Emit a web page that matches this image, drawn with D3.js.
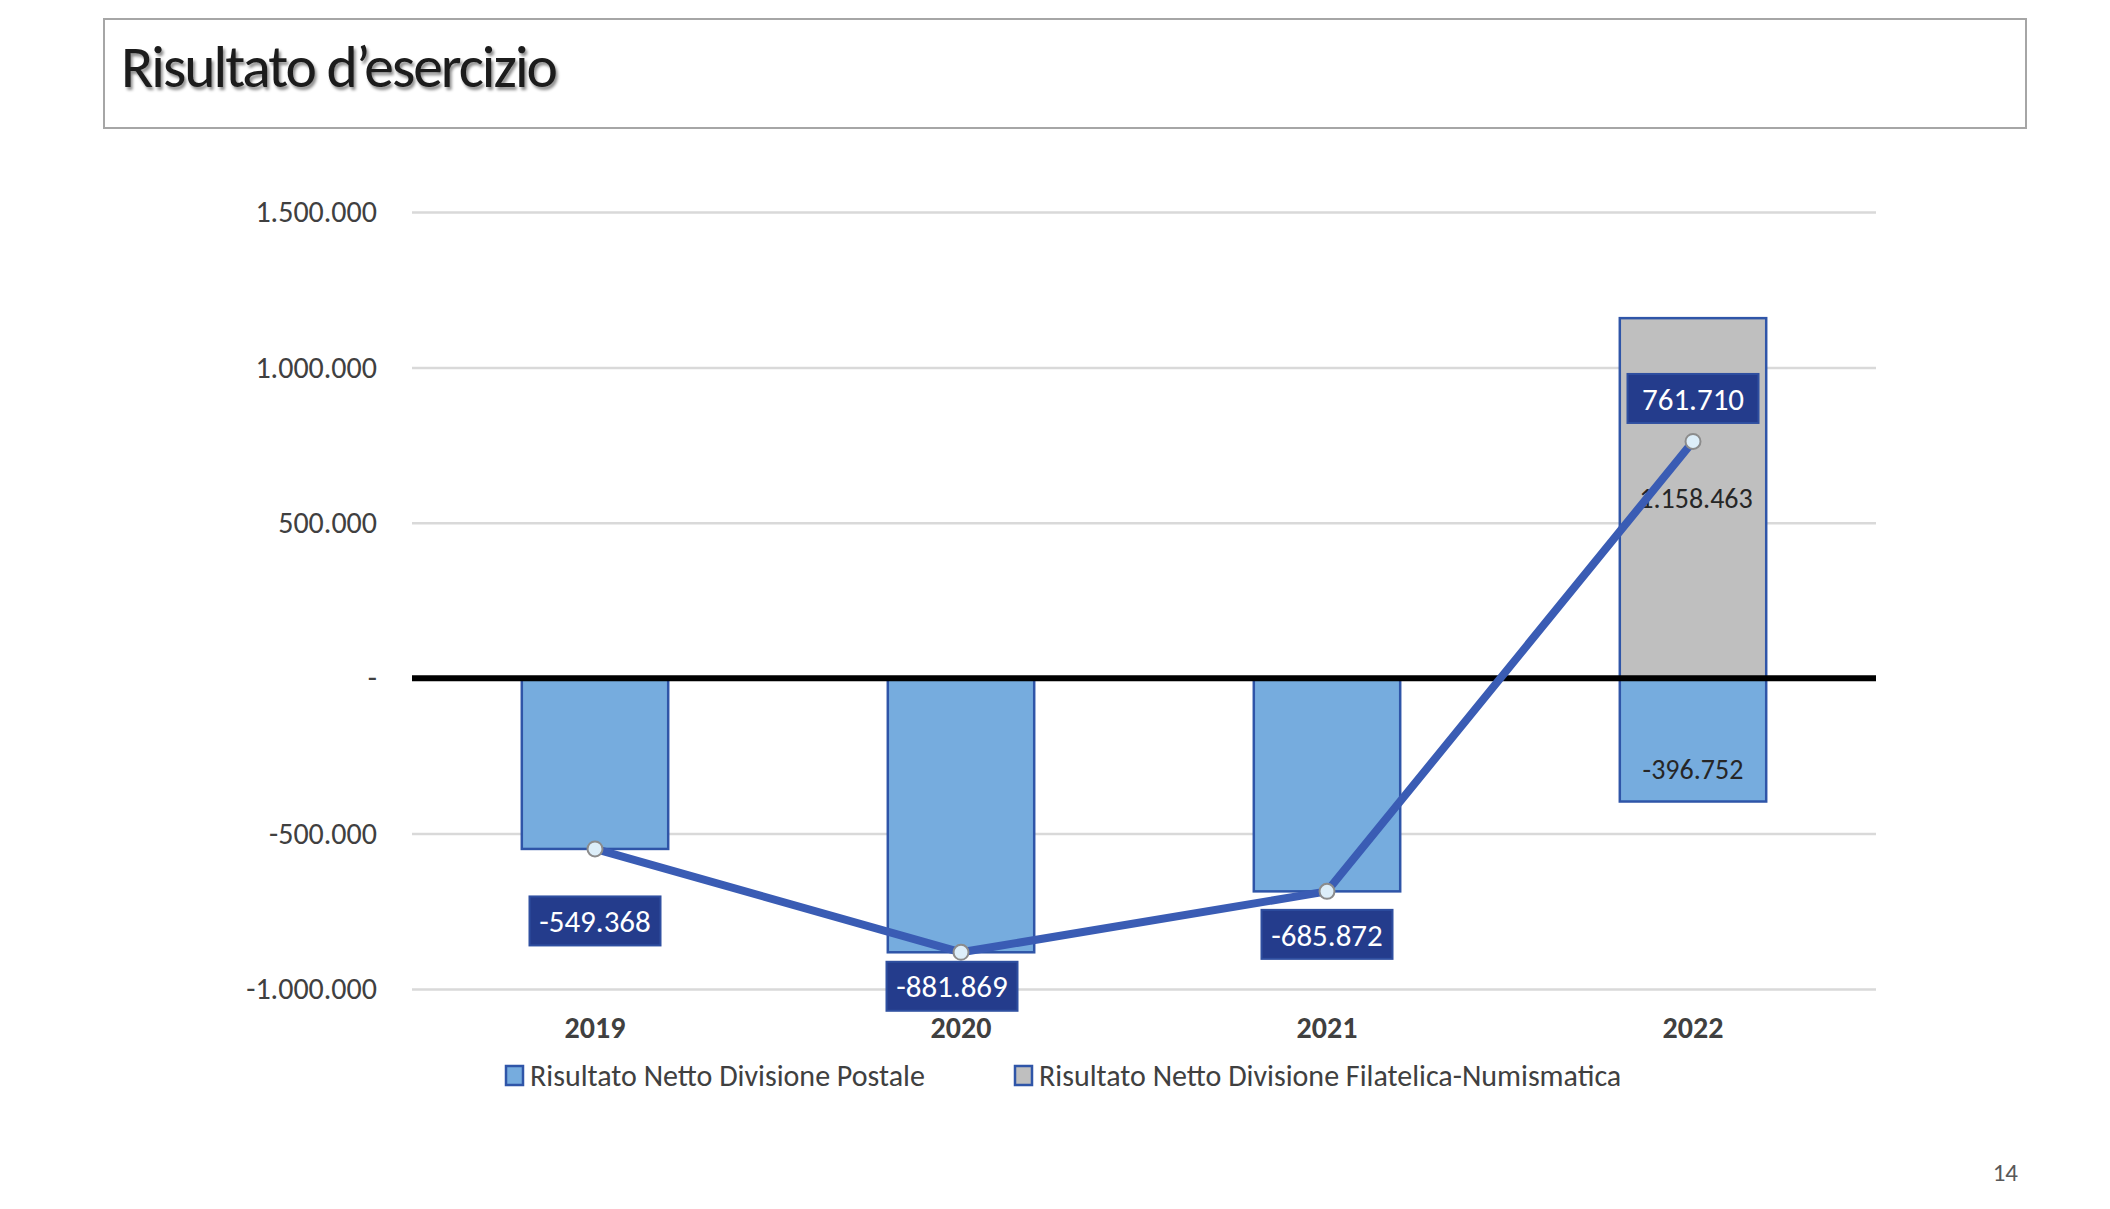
<!DOCTYPE html>
<html>
<head>
<meta charset="utf-8">
<script src="https://cdn.jsdelivr.net/npm/d3@7"></script>
<style>
  body { margin: 0; background: #fff; }
  text { font-family: Carlito, Calibri, Lato, "Open Sans", sans-serif; }
</style>
</head>
<body>
<div id="chart"></div>
<script>
const years = ["2019", "2020", "2021", "2022"];
const postale = [-549368, -881869, -685872, -396752];
const filatelica = [0, 0, 0, 1158463];
const totale = [-549368, -881869, -685872, 761710];
const yTicks = [-1000000, -500000, 0, 500000, 1000000, 1500000];
const seriesNames = ["Risultato Netto Divisione Postale", "Risultato Netto Divisione Filatelica-Numismatica"];

// where the dark value boxes sit relative to their point (px)
const totaleLabelDx = [0, -9, 0, 0];
const totaleLabelDy = [72, 34, 43, -43];

const width = 2110;
const height = 1209;
const margin = { top: 212, right: 234, bottom: 220, left: 412 };

const itLocale = d3.formatLocale({ decimal: ",", thousands: ".", grouping: [3], currency: ["€", ""], minus: "-" });
const fmt = itLocale.format(",d");
const tickFmt = d => d === 0 ? "-" : fmt(d);

const svg = d3.select("#chart").append("svg")
    .attr("width", width)
    .attr("height", height);

const defs = svg.append("defs");
defs.append("filter")
    .attr("id", "shadow")
    .append("feDropShadow")
    .attr("dx", 2).attr("dy", 3)
    .attr("stdDeviation", 1.5)
    .attr("flood-color", "#000")
    .attr("flood-opacity", 0.45);

// title box
svg.append("rect")
    .attr("x", 104).attr("y", 19)
    .attr("width", 1922).attr("height", 109)
    .attr("fill", "#fff")
    .attr("stroke", "#a6a6a6")
    .attr("stroke-width", 2);

svg.append("text")
    .attr("x", 121).attr("y", 87)
    .attr("textLength", 435)
    .attr("lengthAdjust", "spacingAndGlyphs")
    .style("font-size", "59px")
    .style("letter-spacing", "-2px")
    .attr("fill", "#1a1a1a")
    .attr("filter", "url(#shadow)")
    .text("Risultato d’esercizio");

const x = d3.scaleBand()
    .domain(years)
    .range([margin.left, width - margin.right])
    .paddingInner(0.6)
    .paddingOuter(0.3);

const y = d3.scaleLinear()
    .domain([-1000000, 1500000])
    .range([989, margin.top]);

// gridlines + y labels
const yAxis = svg.append("g")
    .attr("transform", `translate(${margin.left},0)`)
    .call(d3.axisLeft(y)
        .tickValues(yTicks)
        .tickFormat(tickFmt)
        .tickSize(-(width - margin.right - margin.left))
        .tickPadding(35));
yAxis.select(".domain").remove();
yAxis.selectAll("line").attr("stroke", "#d9d9d9").attr("stroke-width", 2.5);
yAxis.selectAll("text")
    .attr("fill", "#404040")
    .style("font-size", "30px");

// stacked bars
const bars = svg.append("g");
bars.selectAll(".bar-fil")
    .data(years.map((yr, i) => ({ yr, v: filatelica[i] })).filter(d => d.v !== 0))
    .enter().append("rect")
    .attr("class", "bar-fil")
    .attr("x", d => x(d.yr))
    .attr("width", x.bandwidth())
    .attr("y", d => y(d.v))
    .attr("height", d => y(0) - y(d.v))
    .attr("fill", "#bfbfbf")
    .attr("stroke", "#2f55a8")
    .attr("stroke-width", 2.5);

bars.selectAll(".bar-pos")
    .data(years.map((yr, i) => ({ yr, v: postale[i] })))
    .enter().append("rect")
    .attr("class", "bar-pos")
    .attr("x", d => x(d.yr))
    .attr("width", x.bandwidth())
    .attr("y", y(0))
    .attr("height", d => y(d.v) - y(0))
    .attr("fill", "#76acde")
    .attr("stroke", "#2f55a8")
    .attr("stroke-width", 2.5);

// zero line
svg.append("line")
    .attr("x1", margin.left).attr("x2", width - margin.right)
    .attr("y1", y(0)).attr("y2", y(0))
    .attr("stroke", "#000")
    .attr("stroke-width", 6);

// bar labels (2022 only)
const last = years.length - 1;
svg.append("text")
    .attr("x", x(years[last]) + x.bandwidth() / 2 + 3)
    .attr("y", y(filatelica[last] / 2))
    .attr("dy", "0.35em")
    .attr("text-anchor", "middle")
    .attr("fill", "#262626")
    .style("font-size", "28px")
    .text(fmt(filatelica[last]));

svg.append("text")
    .attr("x", x(years[last]) + x.bandwidth() / 2)
    .attr("y", y(postale[last]) - 32)
    .attr("dy", "0.35em")
    .attr("text-anchor", "middle")
    .attr("fill", "#262626")
    .style("font-size", "28px")
    .text(fmt(postale[last]));

// total line
const line = d3.line()
    .x((d, i) => x(years[i]) + x.bandwidth() / 2)
    .y(d => y(d));

svg.append("path")
    .datum(totale)
    .attr("d", line)
    .attr("fill", "none")
    .attr("stroke", "#3a5cb4")
    .attr("stroke-width", 8);

svg.selectAll(".pt")
    .data(totale)
    .enter().append("circle")
    .attr("class", "pt")
    .attr("cx", (d, i) => x(years[i]) + x.bandwidth() / 2)
    .attr("cy", d => y(d))
    .attr("r", 7.5)
    .attr("fill", "#ddeef9")
    .attr("stroke", "#8c8c8c")
    .attr("stroke-width", 2);

const boxW = 131, boxH = 49;
const lbl = svg.selectAll(".tot-lbl")
    .data(totale)
    .enter().append("g")
    .attr("class", "tot-lbl")
    .attr("transform", (d, i) => `translate(${x(years[i]) + x.bandwidth() / 2 + totaleLabelDx[i]},${y(d) + totaleLabelDy[i]})`);

lbl.append("rect")
    .attr("x", -boxW / 2).attr("y", -boxH / 2)
    .attr("width", boxW).attr("height", boxH)
    .attr("fill", "#243c8c")
    .attr("stroke", "#2f4fa0")
    .attr("stroke-width", 2);

lbl.append("text")
    .attr("text-anchor", "middle")
    .attr("dy", "0.36em")
    .attr("fill", "#fff")
    .style("font-size", "31px")
    .text(d => fmt(d));

// x axis labels
const xAxis = svg.append("g")
    .attr("transform", `translate(0,${989})`)
    .call(d3.axisBottom(x).tickSize(0).tickPadding(28));
xAxis.select(".domain").remove();
xAxis.selectAll("text")
    .attr("fill", "#404040")
    .style("font-size", "30px")
    .style("font-weight", "bold");

// legend
const legendX = [506, 1015];
const legendFill = ["#76acde", "#bfbfbf"];
const legend = svg.selectAll(".legend")
    .data(seriesNames)
    .enter().append("g")
    .attr("class", "legend")
    .attr("transform", (d, i) => `translate(${legendX[i]},1066)`);

legend.append("rect")
    .attr("width", 17).attr("height", 19)
    .attr("fill", (d, i) => legendFill[i])
    .attr("stroke", "#2f55a8")
    .attr("stroke-width", 2.5);

legend.append("text")
    .attr("x", 24)
    .attr("y", 20)
    .attr("fill", "#404040")
    .style("font-size", "30px")
    .text(d => d);

// page number
svg.append("text")
    .attr("x", 2018).attr("y", 1181)
    .attr("text-anchor", "end")
    .attr("fill", "#595959")
    .style("font-size", "25px")
    .text("14");
</script>
</body>
</html>
